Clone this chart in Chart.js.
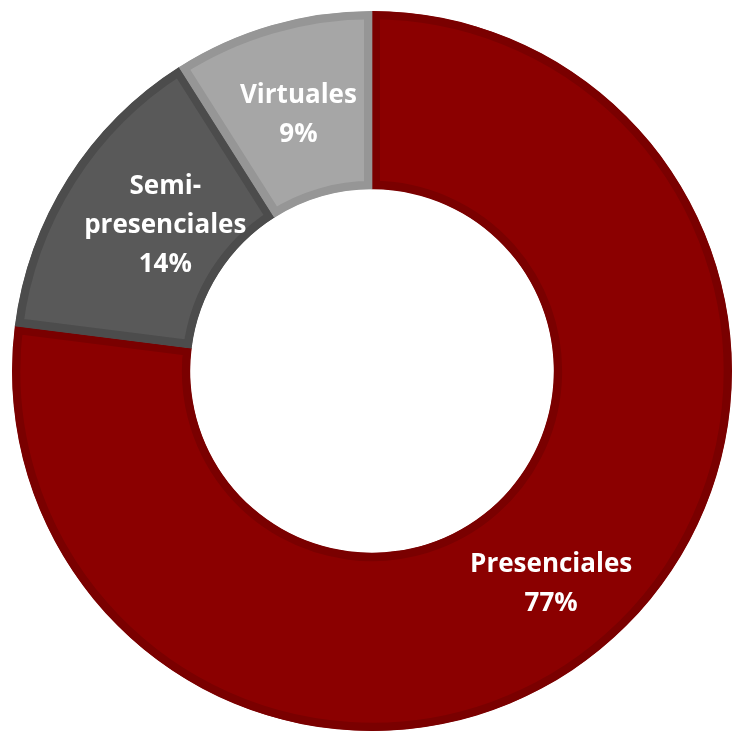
<!DOCTYPE html>
<html>
<head>
<meta charset="utf-8">
<script src="https://cdn.jsdelivr.net/npm/chart.js@4.4.1/dist/chart.umd.min.js"></script>
<style>
  html, body { margin: 0; padding: 0; background: #fff; }
  canvas { display: block; }
</style>
</head>
<body>
<canvas id="donut" width="732" height="734"></canvas>
<script>
// data
const categories = ["Presenciales", "Semi-presenciales", "Virtuales"];
const shares = [77, 14, 9];

const fills = ["#8B0000", "#595959", "#A6A6A6"];
const edges = ["#7A0000", "#4C4C4C", "#969696"];

// label nudges from the arc's middle point (dx, dy)
const labelNudge = [[0, 10], [22, 0], [2, 4]];

// draws "name / NN%" in white on top of each slice
const sliceLabels = {
    id: "sliceLabels",
    afterDatasetsDraw(chart) {
        const ctx = chart.ctx;
        const meta = chart.getDatasetMeta(0);
        ctx.save();
        ctx.fillStyle = "#ffffff";
        ctx.font = "bold 26px 'Open Sans', Lato, sans-serif";
        ctx.textAlign = "center";
        ctx.textBaseline = "middle";
        meta.data.forEach((arc, i) => {
            const p = arc.tooltipPosition();
            let name = categories[i];
            let lines = name.includes("-")
                ? [name.slice(0, name.indexOf("-") + 1), name.slice(name.indexOf("-") + 1)]
                : [name];
            lines.push(shares[i] + "%");
            const lh = 39;
            const top = p.y + labelNudge[i][1] - (lines.length - 1) * lh / 2;
            lines.forEach((t, k) => ctx.fillText(t, p.x + labelNudge[i][0], top + k * lh));
        });
        ctx.restore();
    }
};

new Chart(document.getElementById("donut").getContext("2d"), {
    type: "doughnut",
    data: {
        labels: categories,
        datasets: [{
            data: shares,
            backgroundColor: fills,
            borderColor: edges,
            borderWidth: 8,
            borderAlign: "inner"
        }]
    },
    options: {
        responsive: false,
        animation: false,
        cutout: "50.5%",
        layout: { padding: { left: 12, right: 0, top: 11, bottom: 3 } },
        plugins: {
            legend: { display: false },
            tooltip: { enabled: false }
        }
    },
    plugins: [sliceLabels]
});
</script>
</body>
</html>
